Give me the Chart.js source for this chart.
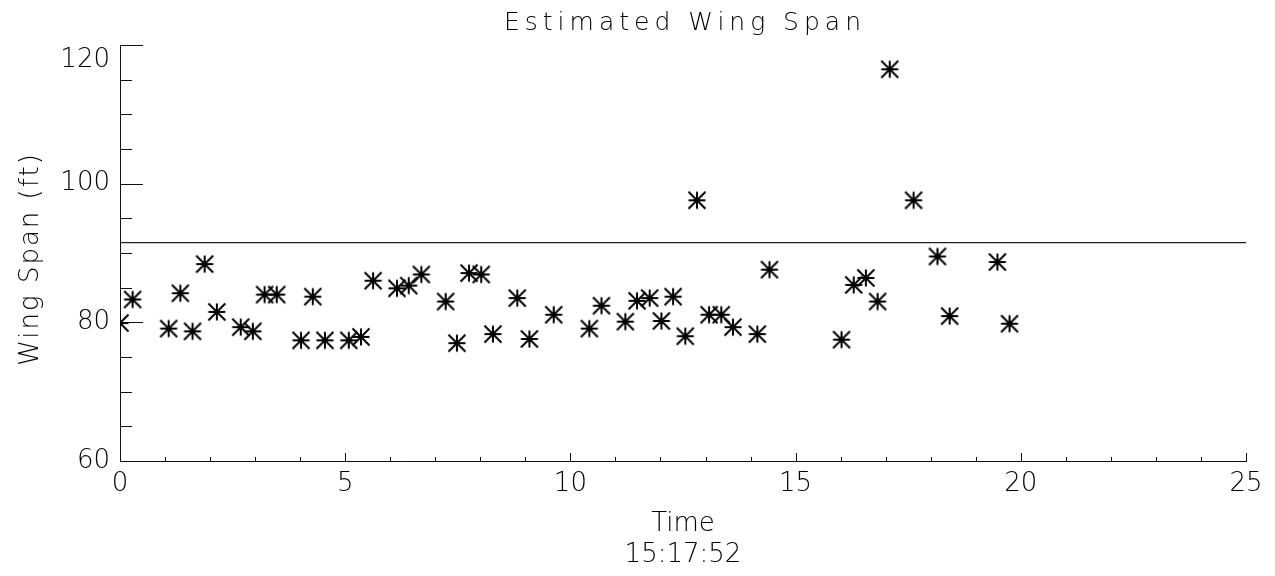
<!DOCTYPE html>
<html>
<head>
<meta charset="utf-8">
<script src="https://cdn.jsdelivr.net/npm/chart.js@4.4.1/dist/chart.umd.min.js"></script>
<style>
  html, body { margin: 0; padding: 0; background: #fff; }
  #wrap { width: 1275px; height: 576px; }
</style>
</head>
<body>
<div id="wrap"><canvas id="chart-wingspan"></canvas></div>
<script>
// --- data ---
const timeVals = [0.0, 0.28, 1.08, 1.34, 1.61, 1.88, 2.15, 2.68, 2.95, 3.21,
  3.48, 4.02, 4.28, 4.55, 5.08, 5.35, 5.62, 6.15, 6.41, 6.69,
  7.23, 7.48, 7.75, 8.02, 8.28, 8.82, 9.09, 9.63, 10.42, 10.69,
  11.22, 11.48, 11.76, 12.02, 12.28, 12.55, 12.81, 13.08, 13.35, 13.61,
  14.15, 14.42, 16.02, 16.29, 16.56, 16.82, 17.09, 17.62, 18.15, 18.42,
  19.48, 19.75];
const spanVals = [79.9, 83.3, 79.1, 84.2, 78.7, 88.4, 81.5, 79.3, 78.7, 84.0,
  84.0, 77.4, 83.7, 77.4, 77.4, 77.9, 86.0, 84.9, 85.3, 86.9,
  83.0, 77.0, 87.1, 86.9, 78.3, 83.5, 77.6, 81.1, 79.1, 82.4,
  80.1, 83.1, 83.5, 80.2, 83.7, 78.0, 97.6, 81.1, 81.1, 79.3,
  78.3, 87.6, 77.5, 85.4, 86.4, 83.0, 116.5, 97.6, 89.5, 80.9,
  88.7, 79.8];
const refLineX = [0, 25];
const refLineY = [91.5, 91.5];

const xRange = [0, 25];
const yRange = [60, 120];
const xMajorEvery = 5;
const yMajorEvery = 20;

const TITLE = 'Estimated Wing Span';
const Y_TITLE = 'Wing Span (ft)';
const X_TITLE = ['Time', '15:17:52'];

const FONT = "'DejaVu Sans', 'Liberation Sans', sans-serif";
const WEIGHT = 200;
const INK = '#000';

// IDL-like asterisk marker (psym=2)
function makeAsterisk(size, lw) {
  const c = document.createElement('canvas');
  c.width = size; c.height = size;
  const g = c.getContext('2d');
  const m = lw / 2 + 0.5, e = size - m, h = size / 2;
  g.strokeStyle = '#000';
  g.lineWidth = lw;
  g.beginPath();
  g.moveTo(h, m); g.lineTo(h, e);
  g.moveTo(m, h); g.lineTo(e, h);
  g.moveTo(m, m); g.lineTo(e, e);
  g.moveTo(e, m); g.lineTo(m, e);
  g.stroke();
  return c;
}

// inward tick marks, major/minor
const inwardTicks = {
  id: 'inwardTicks',
  afterDatasetsDraw(chart) {
    const { ctx, chartArea: { left, bottom }, scales: { x, y } } = chart;
    ctx.save();
    ctx.strokeStyle = '#111';
    ctx.lineWidth = 1;
    ctx.beginPath();
    x.ticks.forEach(t => {
      const px = Math.round(x.getPixelForValue(t.value)) + 0.5;
      const len = t.value % xMajorEvery === 0 ? 8 : 4;
      ctx.moveTo(px, bottom);
      ctx.lineTo(px, bottom - len);
    });
    y.ticks.forEach(t => {
      const py = Math.round(y.getPixelForValue(t.value)) + 0.5;
      const len = t.value % yMajorEvery === 0 ? 23 : 12;
      ctx.moveTo(left, py);
      ctx.lineTo(left + len, py);
    });
    ctx.stroke();
    ctx.restore();
  }
};

// titles drawn with letter spacing (Hershey-style wide lettering)
const spacedTitles = {
  id: 'spacedTitles',
  afterDraw(chart) {
    const { ctx, chartArea: { left, right, top, bottom } } = chart;
    ctx.save();
    ctx.fillStyle = INK;
    ctx.textAlign = 'center';
    ctx.textBaseline = 'alphabetic';
    ctx.font = WEIGHT + ' 25px ' + FONT;
    ctx.letterSpacing = '5px';
    ctx.fillText(TITLE, (left + right) / 2 + 2, 30);

    ctx.translate(38, (top + bottom) / 2 + 6);
    ctx.rotate(-Math.PI / 2);
    ctx.font = WEIGHT + ' 26px ' + FONT;
    ctx.letterSpacing = '2px';
    ctx.fillText(Y_TITLE, 0, 0);
    ctx.restore();
  }
};

Chart.defaults.font.family = FONT;
Chart.defaults.font.weight = WEIGHT;
Chart.defaults.color = INK;

const ctx = document.getElementById('chart-wingspan');
ctx.chart = new Chart(ctx, {
  type: 'scatter',
  data: {
    datasets: [
      {
        label: 'Wing span',
        data: timeVals.map((t, i) => ({ x: t, y: spanVals[i] })),
        pointStyle: makeAsterisk(20, 2),
        pointRadius: 10,
        pointHoverRadius: 10,
      },
      {
        type: 'line',
        label: 'Reference',
        data: refLineX.map((t, i) => ({ x: t, y: refLineY[i] })),
        borderColor: '#222',
        borderWidth: 1.2,
        pointRadius: 0,
        fill: false,
      }
    ]
  },
  plugins: [inwardTicks, spacedTitles],
  options: {
    responsive: true,
    maintainAspectRatio: false,
    animation: false,
    layout: { padding: { top: 45, right: 29, left: 0, bottom: 0 } },
    plugins: {
      legend: { display: false },
      tooltip: { enabled: false },
      title: { display: false }
    },
    scales: {
      x: {
        type: 'linear',
        min: xRange[0],
        max: xRange[1],
        grid: { display: false, drawTicks: false },
        border: { display: true, color: '#111', width: 1 },
        ticks: {
          stepSize: 1,
          autoSkip: false,
          maxRotation: 0,
          padding: 8,
          font: { size: 26 },
          callback: (v) => v % xMajorEvery === 0 ? String(v) : ''
        },
        title: {
          display: true,
          text: X_TITLE,
          font: { size: 26 },
          padding: { top: 0, bottom: 5 }
        },
        afterFit: (s) => { s.height = 115; }
      },
      y: {
        type: 'linear',
        min: yRange[0],
        max: yRange[1],
        grid: { display: false, drawTicks: false },
        border: { display: true, color: '#111', width: 1 },
        ticks: {
          stepSize: 5,
          autoSkip: false,
          padding: 10,
          font: { size: 26 },
          // IDL keeps the top label inside the axis: push it down one half line
          callback: (v) => {
            if (v % yMajorEvery !== 0) return '';
            return v === yRange[1] ? ['', String(v)] : String(v);
          }
        },
        afterFit: (s) => { s.width = 120; }
      }
    }
  }
});
</script>
</body>
</html>
